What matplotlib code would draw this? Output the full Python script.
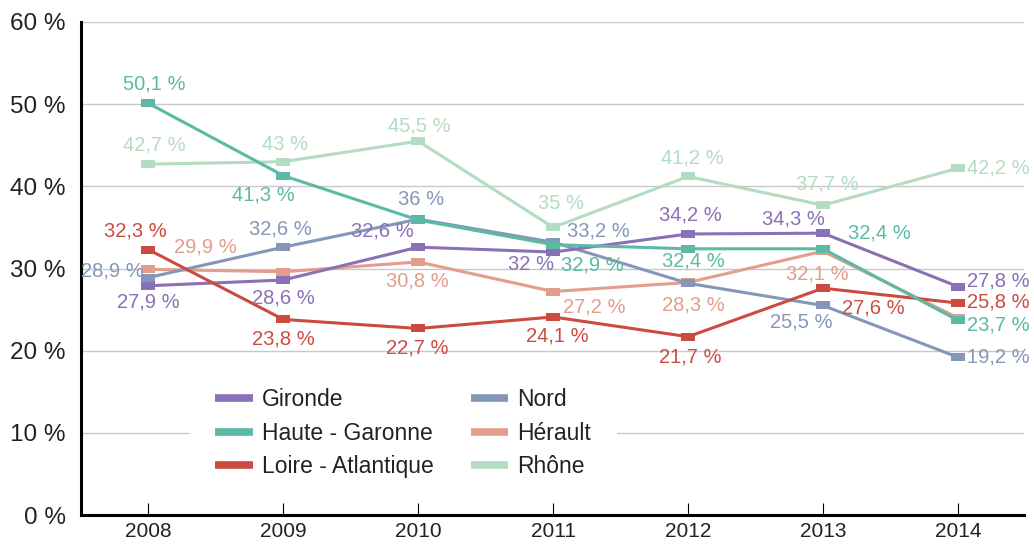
import matplotlib
matplotlib.use("Agg")
import matplotlib.pyplot as plt
from matplotlib.path import Path
from matplotlib.lines import Line2D
from matplotlib.transforms import IdentityTransform

years = [2008, 2009, 2010, 2011, 2012, 2013, 2014]

gironde = [27.9, 28.6, 32.6, 32.0, 34.2, 34.3, 27.8]
haute_garonne = [50.1, 41.3, 35.9, 32.9, 32.4, 32.4, 23.7]
loire_atlantique = [32.3, 23.8, 22.7, 24.1, 21.7, 27.6, 25.8]
nord = [28.9, 32.6, 36.0, 33.2, 28.2, 25.5, 19.2]
herault = [29.9, 29.6, 30.8, 27.2, 28.3, 32.1, 24.0]
rhone = [42.7, 43.0, 45.5, 35.0, 41.2, 37.7, 42.2]

# which points carry a value label
gironde_lab = [1, 1, 1, 1, 1, 1, 1]
haute_garonne_lab = [1, 1, 0, 1, 1, 1, 1]
loire_atlantique_lab = [1, 1, 1, 1, 1, 1, 1]
nord_lab = [1, 1, 1, 1, 0, 1, 1]
herault_lab = [1, 0, 1, 1, 1, 1, 0]
rhone_lab = [1, 1, 1, 1, 1, 1, 1]

yticks = [0, 10, 20, 30, 40, 50, 60]

# label offsets in pixels (dx, dy) – style
off_gironde = [(0, -16), (0, -18), (-36, 16), (-22, -12), (2, 19), (-30, 14), (40, 6)]
off_hg = [(6, 19), (-20, -19), (0, 0), (39, -20), (5, -12), (56, 16), (40, -5)]
off_loire = [(-13, 19), (0, -20), (-1, -20), (4, -19), (2, -20), (50, -20), (40, 1)]
off_nord = [(-36, 7), (-3, 18), (3, 20), (45, 11), (0, 0), (-22, -17), (40, 0)]
off_herault = [(57, 22), (0, 0), (-1, -19), (41, -15), (5, -23), (-6, -23), (0, 0)]
off_rhone = [(6, 19), (2, 17), (1, 15), (8, 24), (4, 18), (4, 21), (40, 0)]

series = [
    ("Hérault", herault, herault_lab, off_herault, "#e39d8d"),
    ("Rhône", rhone, rhone_lab, off_rhone, "#b3dcc0"),
    ("Nord", nord, nord_lab, off_nord, "#8497b8"),
    ("Gironde", gironde, gironde_lab, off_gironde, "#8a70b6"),
    ("Loire - Atlantique", loire_atlantique, loire_atlantique_lab, off_loire, "#cc4b40"),
    ("Haute - Garonne", haute_garonne, haute_garonne_lab, off_hg, "#5cb9a5"),
]

FONT = ["Liberation Sans", "DejaVu Sans"]
plt.rcParams["font.family"] = FONT

rect = Path([(-1, -0.55), (1, -0.55), (1, 0.55), (-1, 0.55), (-1, -0.55)],
            [Path.MOVETO, Path.LINETO, Path.LINETO, Path.LINETO, Path.CLOSEPOLY])

fig = plt.figure(figsize=(10.34, 5.44), dpi=100)
ax = fig.add_axes([81 / 1034, 29 / 544, (1024 - 81) / 1034, (515 - 22) / 544])

for name, vals, labs, offs, col in series:
    ax.plot(years, vals, color=col, lw=2.2, marker=rect, markersize=10,
            markeredgewidth=0, solid_joinstyle="miter", zorder=3)
    for x, v, l, (dx, dy) in zip(years, vals, labs, offs):
        if l:
            txt = ("%g" % v).replace(".", ",") + " %"
            ax.annotate(txt, (x, v), xytext=(dx, dy), textcoords="offset pixels",
                        ha="center", va="center", fontsize=14.5, color=col, zorder=4)

ax.set_xlim(2007.5, 2014.49)
ax.set_ylim(0, 60)
ax.set_yticks(yticks)
ax.set_yticklabels([f"{t} %" for t in yticks], fontsize=17.5, color="#222222")
ax.set_xticks(years)
ax.set_xticklabels([str(y) for y in years], fontsize=15, color="#222222")
ax.tick_params(axis="y", length=0, pad=11)
ax.tick_params(axis="x", direction="in", length=9, width=0.8, pad=5)
ax.grid(axis="y", color="#c8c8c8", lw=1, zorder=0)
ax.set_axisbelow(True)
for s in ["top", "right"]:
    ax.spines[s].set_visible(False)
ax.spines["left"].set_linewidth(2.2)
ax.spines["bottom"].set_linewidth(2.2)

order = ["Gironde", "Haute - Garonne", "Loire - Atlantique", "Nord", "Hérault", "Rhône"]
cols = dict((n, c) for n, _, _, _, c in series)
lh = [Line2D([0], [0], color=cols[n], lw=5.5, solid_capstyle="butt") for n in order]
leg = ax.legend(lh, order, ncol=2, loc="upper left",
                bbox_to_anchor=(190, 544 - 363), bbox_transform=IdentityTransform(),
                frameon=True, facecolor="white", edgecolor="none", framealpha=1,
                fontsize=16.5, handlelength=1.65, handletextpad=0.4,
                columnspacing=1.6, labelspacing=0.45, borderpad=1.1, borderaxespad=0)
leg.set_zorder(2)
for t in leg.get_texts():
    t.set_color("#222222")

fig.savefig("out.png", dpi=100)
